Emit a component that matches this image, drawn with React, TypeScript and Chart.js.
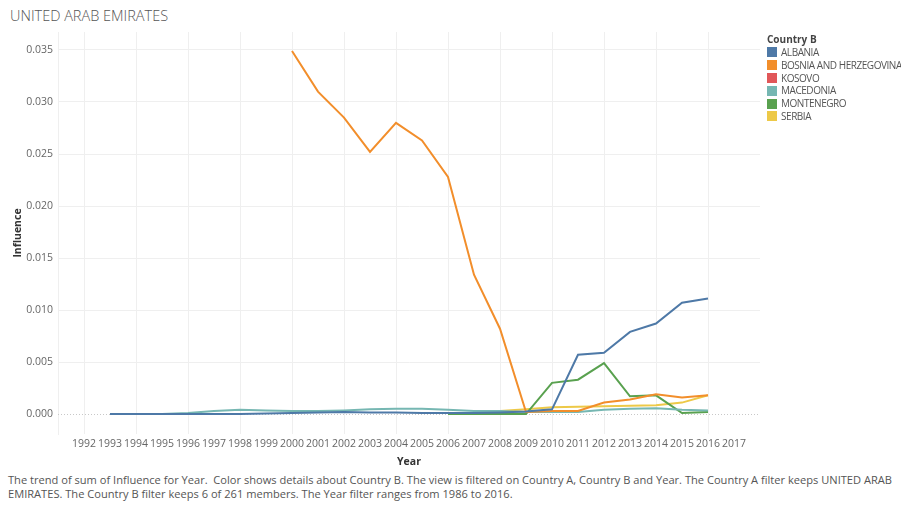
import React, { useEffect, useRef } from "react";
import { Chart, registerables } from "chart.js";

Chart.register(...registerables);

const TITLE = "UNITED ARAB EMIRATES";
const YEAR_LABELS = [
  "1991", "1992", "1993", "1994", "1995", "1996", "1997", "1998", "1999", "2000",
  "2001", "2002", "2003", "2004", "2005", "2006", "2007", "2008", "2009", "2010",
  "2011", "2012", "2013", "2014", "2015", "2016", "2017", "2018",
];
const COUNTRIES = ["ALBANIA", "BOSNIA AND HERZEGOVINA", "KOSOVO", "MACEDONIA", "MONTENEGRO", "SERBIA"];
const COLORS = ["#4e79a7", "#f28e2b", "#e15759", "#76b7b2", "#59a14f", "#edc948"];

// each series: first year + values
const ALBANIA_START = 1993;
const ALBANIA = [0, 0, 0, 0, 0, 0, 0.00005, 0.0001, 0.00015, 0.0002, 0.00015, 0.00015, 0.0001, 0.0001, 0.0001, 0.00015, 0.00025, 0.00045, 0.0057, 0.0059, 0.0079, 0.0087, 0.0107, 0.0111];
const BOSNIA_START = 2000;
const BOSNIA = [0.0349, 0.031, 0.0285, 0.0252, 0.028, 0.0263, 0.0228, 0.0134, 0.0082, 0.0002, 0.0003, 0.0003, 0.0011, 0.0014, 0.0019, 0.0016, 0.0018];
const KOSOVO_START = 2016;
const KOSOVO: number[] = [];
const MACEDONIA_START = 1995;
const MACEDONIA = [0, 0.0001, 0.0003, 0.0004, 0.00035, 0.0003, 0.0003, 0.00035, 0.00045, 0.0005, 0.0005, 0.0004, 0.0003, 0.0003, 0.0002, 0.0002, 0.0002, 0.0004, 0.0005, 0.00055, 0.0004, 0.00035];
const MONTENEGRO_START = 2006;
const MONTENEGRO = [0, 0, 0, 0, 0.003, 0.0033, 0.0049, 0.0017, 0.0018, 0.0001, 0.0002];
const SERBIA_START = 2008;
const SERBIA = [0.0003, 0.00045, 0.00065, 0.0007, 0.00075, 0.0008, 0.00085, 0.0011, 0.0018];

const SERIES: [number, number[]][] = [
  [ALBANIA_START, ALBANIA],
  [BOSNIA_START, BOSNIA],
  [KOSOVO_START, KOSOVO],
  [MACEDONIA_START, MACEDONIA],
  [MONTENEGRO_START, MONTENEGRO],
  [SERBIA_START, SERBIA],
];

const CAPTION_1 =
  "The trend of sum of Influence for Year.  Color shows details about Country B. The view is filtered on Country A, Country B and Year. The Country A filter keeps UNITED ARAB";
const CAPTION_2 =
  "EMIRATES. The Country B filter keeps 6 of 261 members. The Year filter ranges from 1986 to 2016.";

const FONT = "'Open Sans', Lato, sans-serif";

function align(start: number, vals: number[]): (number | null)[] {
  return YEAR_LABELS.map((y) => {
    const i = Number(y) - start;
    return i >= 0 && i < vals.length ? vals[i] : null;
  });
}

const zeroLine = {
  id: "zeroLine",
  beforeDatasetsDraw(chart: any) {
    const { ctx, chartArea, scales } = chart;
    const y = Math.round(scales.y.getPixelForValue(0)) + 0.5;
    ctx.save();
    ctx.strokeStyle = "#c8c8c8";
    ctx.lineWidth = 1;
    ctx.setLineDash([1, 2]);
    ctx.beginPath();
    ctx.moveTo(chartArea.left, y);
    ctx.lineTo(chartArea.right, y);
    ctx.stroke();
    ctx.restore();
  },
};

export default function App() {
  const ref = useRef<HTMLCanvasElement>(null);
  useEffect(() => {
    if (!ref.current) return;
    const chart = new Chart(ref.current, {
      type: "line",
      data: {
        labels: YEAR_LABELS,
        datasets: SERIES.map(([s, v], i) => ({
          label: COUNTRIES[i],
          data: align(s, v),
          borderColor: COLORS[i],
          backgroundColor: COLORS[i],
          borderWidth: 2,
          pointRadius: 0,
          tension: 0,
          spanGaps: false,
        })),
      },
      options: {
        animation: false,
        responsive: false,
        layout: { padding: { top: 32, right: 10, left: 0, bottom: 0 } },
        plugins: { legend: { display: false }, tooltip: { enabled: false } },
        scales: {
          x: {
            type: "category",
            offset: false,
            afterFit: (s: any) => {
              s.height = 36;
            },
            grid: {
              drawTicks: false,
              color: (c: any) => {
                const y = Number(YEAR_LABELS[c.index]);
                return y >= 1992 && y <= 2016 && y % 2 === 0 ? "#efefef" : "rgba(0,0,0,0)";
              },
            },
            border: { display: false },
            ticks: {
              autoSkip: false,
              maxRotation: 0,
              padding: 4,
              color: "#666",
              font: { family: FONT, size: 10.5 },
              callback: (_v: any, i: number) => {
                const y = YEAR_LABELS[i];
                return y === "1991" || y === "2018" ? "" : y;
              },
            },
            title: {
              display: true,
              text: "Year",
              color: "#333",
              font: { family: FONT, size: 10.5, weight: "bold" },
              padding: { top: 0, bottom: 2 },
            },
          },
          y: {
            min: -0.00192,
            max: 0.03673,
            afterFit: (s: any) => {
              s.width = 58;
            },
            grid: {
              drawTicks: false,
              color: (c: any) => (c.tick && Math.abs(c.tick.value) < 1e-9 ? "rgba(0,0,0,0)" : "#efefef"),
            },
            border: { display: true, color: "#efefef" },
            ticks: {
              stepSize: 0.005,
              includeBounds: false,
              padding: 5,
              color: "#666",
              font: { family: FONT, size: 10.5 },
              callback: (v: any) => Number(v).toFixed(3),
            },
            title: {
              display: true,
              text: "Influence",
              color: "#333",
              font: { family: FONT, size: 10.5, weight: "bold" },
              padding: { top: 12, bottom: 0 },
            },
          },
        },
      } as any,
      plugins: [zeroLine],
    });
    return () => chart.destroy();
  }, []);

  return (
    <div style={{ position: "fixed", left: 0, top: 0, width: 901, height: 505, background: "#fff", fontFamily: FONT, color: "#555", overflow: "hidden" }}>
      <div style={{ position: "absolute", left: 10, top: 6, fontSize: 14.5, fontWeight: 300, color: "#555", whiteSpace: "nowrap" }}>{TITLE}</div>
      <canvas ref={ref} width={770} height={470} style={{ position: "absolute", left: 0, top: 0, width: 770, height: 470 }} />
      <div style={{ position: "absolute", left: 767, top: 32, fontSize: 10, letterSpacing: "-0.45px", whiteSpace: "nowrap" }}>
        <div style={{ fontWeight: "bold", color: "#444", height: 14, lineHeight: "14px", letterSpacing: 0 }}>Country B</div>
        {COUNTRIES.map((c, i) => (
          <div key={c} style={{ display: "flex", alignItems: "center", height: 12.8, lineHeight: "12.8px" }}>
            <span style={{ display: "inline-block", width: 10, height: 10, background: COLORS[i], marginRight: 4, flex: "none" }} />
            <span style={{ color: "#555" }}>{c}</span>
          </div>
        ))}
      </div>
      <div style={{ position: "absolute", left: 8, top: 473, fontSize: 11.1, lineHeight: "14px", color: "#555", whiteSpace: "pre" }}>
        <div>{CAPTION_1}</div>
        <div>{CAPTION_2}</div>
      </div>
    </div>
  );
}
